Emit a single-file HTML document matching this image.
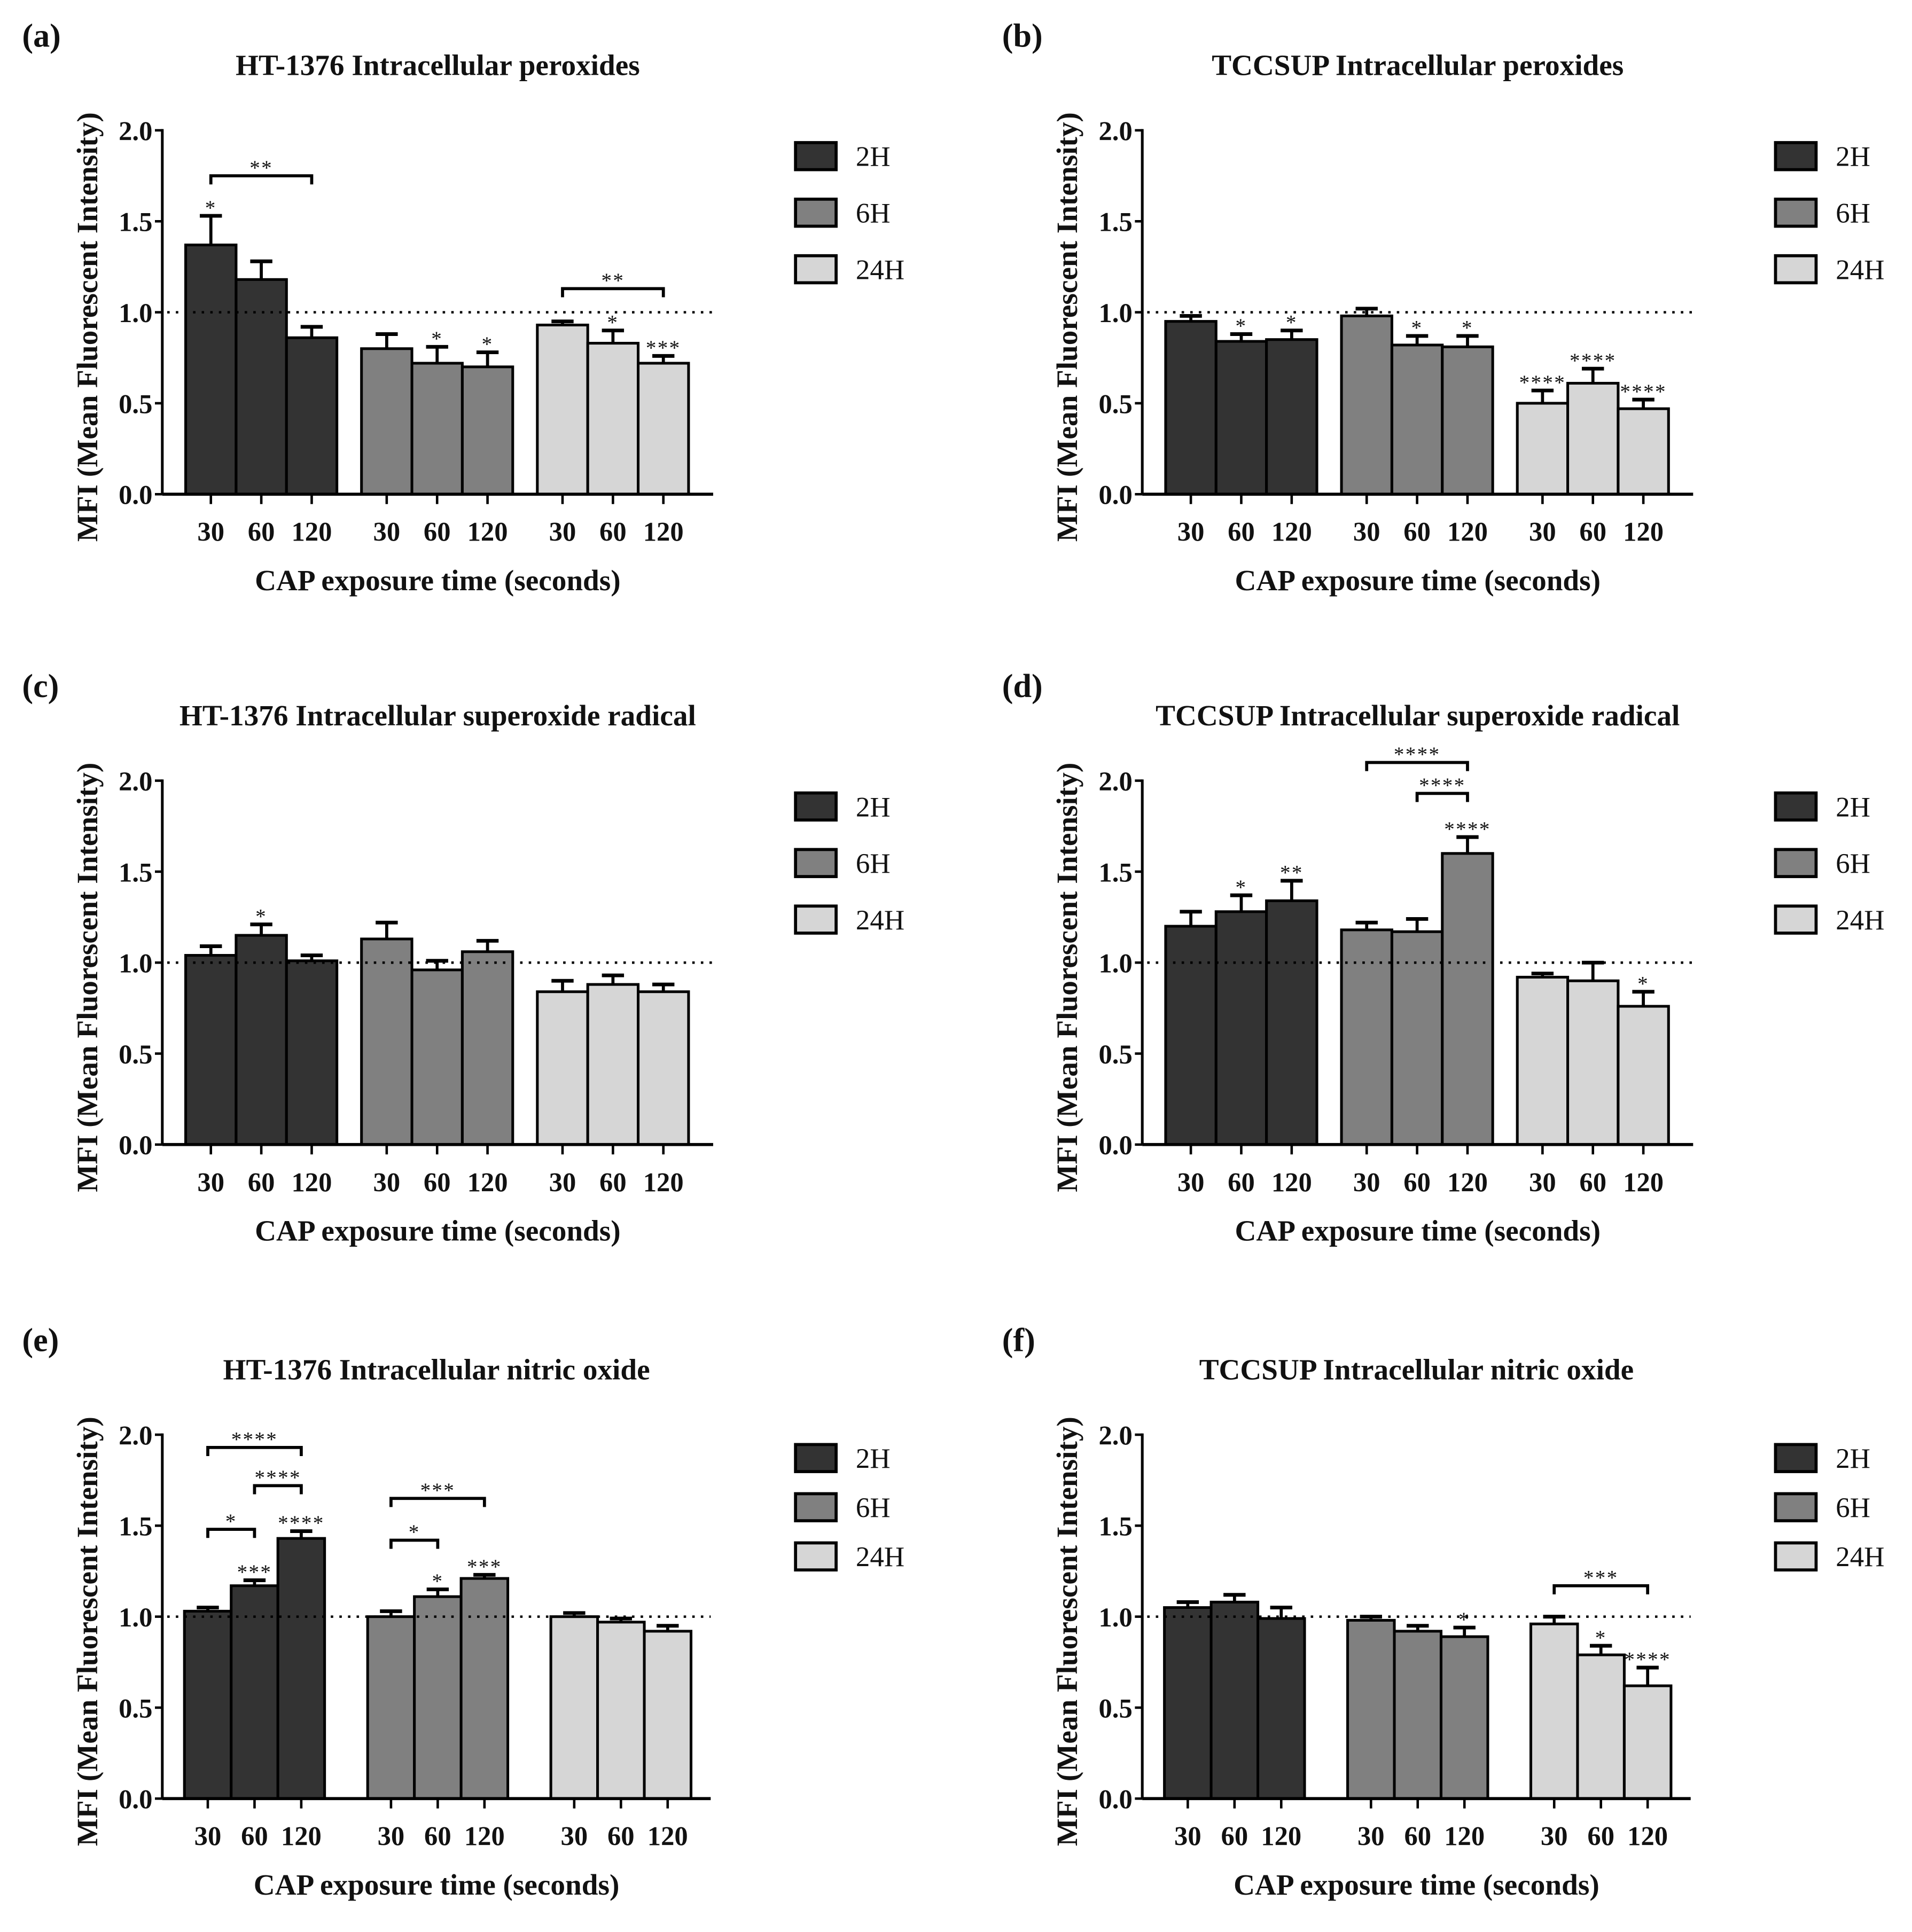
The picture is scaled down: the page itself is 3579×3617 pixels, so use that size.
<!DOCTYPE html>
<html><head><meta charset="utf-8">
<style>
html,body{margin:0;padding:0;background:#fff;}
svg{display:block;}
text{font-family:"Liberation Serif",serif;fill:#111;}
</style></head>
<body>
<svg id="fig" width="3579" height="3617" viewBox="0 0 1555 1571.5" xmlns="http://www.w3.org/2000/svg"></svg>
<script>
const groups = ["2H","6H","24H"];
const times = ["30","60","120"];
const yTicks = [0,0.5,1.0,1.5,2.0];
const yTickLabels = ["0.0","0.5","1.0","1.5","2.0"];
const colors = ["#333333","#808080","#d6d6d6"];

const titles = ["HT-1376 Intracellular peroxides","TCCSUP Intracellular peroxides","HT-1376 Intracellular superoxide radical","TCCSUP Intracellular superoxide radical","HT-1376 Intracellular nitric oxide","TCCSUP Intracellular nitric oxide"];
const panelLetters = ["(a)","(b)","(c)","(d)","(e)","(f)"];

const meanA = [[1.37,1.18,0.86],[0.80,0.72,0.70],[0.93,0.83,0.72]];
const errA  = [[0.16,0.10,0.06],[0.08,0.09,0.08],[0.02,0.07,0.04]];
const starA = [["*","",""],["","*","*"],["","*","***"]];
const brA = [[0,0,2,1.75,"**"],[2,0,2,1.13,"**"]];

const meanB = [[0.95,0.84,0.85],[0.98,0.82,0.81],[0.50,0.61,0.47]];
const errB  = [[0.03,0.04,0.05],[0.04,0.05,0.06],[0.07,0.08,0.05]];
const starB = [["","*","*"],["","*","*"],["****","****","****"]];
const brB = [];

const meanC = [[1.04,1.15,1.01],[1.13,0.96,1.06],[0.84,0.88,0.84]];
const errC  = [[0.05,0.06,0.03],[0.09,0.05,0.06],[0.06,0.05,0.04]];
const starC = [["","*",""],["","",""],["","",""]];
const brC = [];

const meanD = [[1.20,1.28,1.34],[1.18,1.17,1.60],[0.92,0.90,0.76]];
const errD  = [[0.08,0.09,0.11],[0.04,0.07,0.09],[0.02,0.10,0.08]];
const starD = [["","*","**"],["","","****"],["","","*"]];
const brD = [[1,0,2,2.10,"****"],[1,1,2,1.93,"****"]];

const meanE = [[1.03,1.17,1.43],[1.00,1.11,1.21],[1.00,0.97,0.92]];
const errE  = [[0.02,0.03,0.04],[0.03,0.04,0.02],[0.02,0.02,0.03]];
const starE = [["","***","****"],["","*","***"],["","",""]];
const brE = [[0,0,2,1.93,"****"],[0,1,2,1.72,"****"],[0,0,1,1.48,"*"],[1,0,2,1.65,"***"],[1,0,1,1.42,"*"]];

const meanF = [[1.05,1.08,0.99],[0.98,0.92,0.89],[0.96,0.79,0.62]];
const errF  = [[0.03,0.04,0.06],[0.02,0.03,0.05],[0.04,0.05,0.10]];
const starF = [["","",""],["","","*"],["","*","****"]];
const brF = [[2,0,2,1.17,"***"]];

const panels = [
 {m:meanA,e:errA,s:starA,b:brA,ox:0,oy:0,t:0},
 {m:meanB,e:errB,s:starB,b:brB,ox:797,oy:0,t:0},
 {m:meanC,e:errC,s:starC,b:brC,ox:0,oy:529,t:0},
 {m:meanD,e:errD,s:starD,b:brD,ox:797,oy:529,t:0},
 {m:meanE,e:errE,s:starE,b:brE,ox:0,oy:1061,t:1},
 {m:meanF,e:errF,s:starF,b:brF,ox:797,oy:1061,t:1}
];

const svg = document.getElementById('fig');
const NS = "http://www.w3.org/2000/svg";
function mk(tag, attrs, parent, txt){
  const el = document.createElementNS(NS, tag);
  for (const k in attrs) el.setAttribute(k, attrs[k]);
  if (txt !== undefined) el.textContent = txt;
  parent.appendChild(el);
  return el;
}

panels.forEach((p, pi) => {
  const g = mk('g', {}, svg);
  
  
  const ax = 132 + p.ox, y0 = 402 + p.oy, yTop = 106 + p.oy;
  const xEnd = (p.t ? 578 : 580) + p.ox;
  const bw = p.t ? 38 : 41;
  const gStart = p.t ? [150,299,448] : [151,294,437];
  const yS = v => y0 - (v/2.0)*(y0 - yTop);
  const barX = (gi, ti) => gStart[gi] + p.ox + ti*bw;

  let el = mk('text', {x:18+p.ox, y:38+p.oy, 'font-size':27, 'font-weight':'bold'}, g, panelLetters[pi]);
   
  el = mk('text', {x:(ax+xEnd)/2, y:61+p.oy, 'font-size':24, 'font-weight':'bold', 'text-anchor':'middle'}, g, titles[pi]);
   
  el = mk('text', {x:0, y:0, 'font-size':24, 'font-weight':'bold', 'text-anchor':'middle', transform:`translate(${79+p.ox},${(y0+yTop)/2 + 12}) rotate(-90)`}, g, 'MFI (Mean Fluorescent Intensity)');
   
  el = mk('text', {x:(ax+xEnd)/2, y:480+p.oy, 'font-size':24, 'font-weight':'bold', 'text-anchor':'middle'}, g, 'CAP exposure time (seconds)');
   

  yTicks.forEach((v, i) => {
    const yy = yS(v);
    mk('line', {x1:ax-6, x2:ax, y1:yy, y2:yy, stroke:'#000', 'stroke-width':2}, g);
    el = mk('text', {x:ax-8, y:yy+8, 'font-size':22, 'font-weight':'bold', 'text-anchor':'end'}, g, yTickLabels[i]);
     
  });

  p.m.forEach((row, gi) => row.forEach((v, ti) => {
    const x = barX(gi, ti), yy = yS(v), ye = yS(v + p.e[gi][ti]);
    const cx = x + bw/2;
    mk('line', {x1:cx, x2:cx, y1:yy, y2:ye, stroke:'#000', 'stroke-width':2.5}, g);
    mk('line', {x1:cx-9, x2:cx+9, y1:ye, y2:ye, stroke:'#000', 'stroke-width':3}, g);
    el = mk('rect', {x:x, y:yy, width:bw, height:y0-yy, fill:colors[gi], stroke:'#000', 'stroke-width':2.2}, g);
    
    
    if (p.s[gi][ti]) {
      el = mk('text', {x:cx, y:ye-1, 'font-size':17, 'text-anchor':'middle', 'letter-spacing':'1'}, g, p.s[gi][ti]);
       
    }
    mk('line', {x1:cx, x2:cx, y1:y0, y2:y0+8, stroke:'#000', 'stroke-width':2}, g);
    el = mk('text', {x:cx, y:440+p.oy, 'font-size':22, 'font-weight':'bold', 'text-anchor':'middle'}, g, times[ti]);
     
  }));

  el = mk('line', {x1:ax+4, x2:xEnd, y1:yS(1), y2:yS(1), stroke:'#000', 'stroke-width':2, 'stroke-dasharray':'2 5'}, g);
   

  mk('line', {x1:ax, x2:ax, y1:yTop-1, y2:y0, stroke:'#000', 'stroke-width':2.2}, g);
  mk('line', {x1:ax, x2:xEnd, y1:y0, y2:y0, stroke:'#000', 'stroke-width':2.5}, g);

  p.b.forEach(b => {
    const x1 = barX(b[0], b[1]) + bw/2, x2 = barX(b[0], b[2]) + bw/2, yy = yS(b[3]);
    el = mk('path', {d:`M${x1},${yy+7}V${yy}H${x2}V${yy+7}`, fill:'none', stroke:'#000', 'stroke-width':2.5}, g);
     
    el = mk('text', {x:(x1+x2)/2, y:yy-1, 'font-size':17, 'text-anchor':'middle', 'letter-spacing':'1'}, g, b[4]);
     
  });

  const lg = mk('g', {}, g);
   
  const ly = p.t ? [1175-1061,1215-1061,1255-1061] : [116,162,208];
  groups.forEach((name, i) => {
    const yy = ly[i] + p.oy;
    mk('rect', {x:647+p.ox, y:yy, width:33, height:22, fill:colors[i], stroke:'#000', 'stroke-width':2.5}, lg);
    const t = mk('text', {x:696+p.ox, y:yy+19, 'font-size':23}, lg, name);
     
  });
});
</script>
</body></html>
